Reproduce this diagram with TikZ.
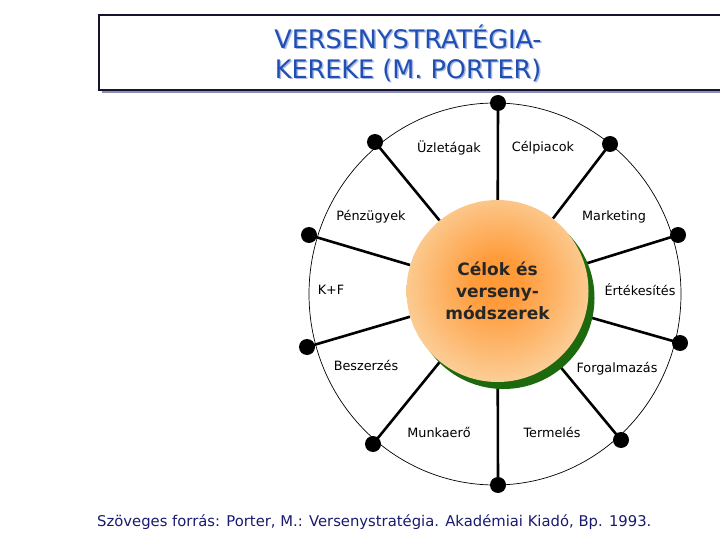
\documentclass[tikz,border=0pt]{standalone}
\usepackage{fontspec}
\setmainfont{DejaVu Sans}
\usetikzlibrary{backgrounds}
\definecolor{titleblue}{HTML}{1F4FB5}
\definecolor{titleshade}{HTML}{A9B9E0}
\definecolor{footnavy}{HTML}{1A1A70}
\definecolor{boxline}{HTML}{14142E}
\definecolor{boxshadow}{HTML}{8E8EB4}
\definecolor{coreIn}{HTML}{FF9A38}
\definecolor{coreOut}{HTML}{FBD7A8}
\definecolor{coregreen}{HTML}{1D6A0E}
\pgfdeclareradialshading{coreshade}{\pgfpoint{0bp}{3bp}}{color(0bp)=(coreIn); color(6bp)=(coreIn); color(30bp)=(coreOut); color(50bp)=(coreOut)}
\tikzset{
  dot/.style={circle, fill=black, inner sep=0pt, minimum size=16},
  spoke/.style={line width=2.6pt, black},
  rim/.style={line width=0.7pt, black},
  lab/.style={font=\fontsize{12.8}{15}\selectfont, text=black, inner sep=0pt},
  corecirc/.style={circle, minimum size=182, inner sep=0pt, shading=coreshade, align=center,
     font=\fontsize{17}{22}\selectfont\bfseries, text=black!85},
  titletext/.style={align=center, text=titleblue, font=\fontsize{25.5}{30}\selectfont, inner sep=0pt},
  foottext/.style={anchor=west, text=footnavy, font=\fontsize{14.8}{17}\selectfont, inner sep=0pt}
}
\begin{document}
\begin{tikzpicture}[x=1pt, y=-1pt]
\useasboundingbox (0,0) rectangle (720,540);
% title box
\fill[boxshadow] (102,19) rectangle (730,93);
\draw[boxline, line width=1.2pt, fill=white] (99,15) rectangle (730,90);
\node[titletext, text=titleshade] (titleS) at (409.5,54.5) {VERSENYSTRATÉGIA-\\KEREKE (M. PORTER)};
\node[titletext] (title) at (408,53) {VERSENYSTRATÉGIA-\\KEREKE (M. PORTER)};
% core
\node[corecirc] (core) at (497.5,291) {Célok és\\verseny-\\módszerek};
% dots
\node[dot] (dT)  at (498,103) {};
\node[dot] (dUL) at (375,142) {};
\node[dot] (dUR) at (610,144) {};
\node[dot] (dLU) at (309,235) {};
\node[dot] (dRU) at (678,235) {};
\node[dot] (dLL) at (307,347) {};
\node[dot] (dRL) at (680,343) {};
\node[dot] (dBL) at (373,444) {};
\node[dot] (dB)  at (498,485) {};
\node[dot] (dBR) at (621,440) {};
\begin{pgfonlayer}{background}
  \coordinate (wc) at (495,294);
  \draw[rim] (wc) ellipse [x radius=186, y radius=191];
  \foreach \d in {dT,dUL,dUR,dLU,dRU,dLL,dRL,dBL,dB,dBR}
    \draw[spoke] (\d.center) -- (core);
  \fill[coregreen] ([shift={(6,7)}]core.center) circle [radius=91];
\end{pgfonlayer}
% labels
\node[lab] (l1) at (449,148) {Üzletágak};
\node[lab] (l2) at (543,148) {Célpiacok};
\node[lab] (l3) at (371,217) {Pénzügyek};
\node[lab] (l4) at (614,217) {Marketing};
\node[lab] (l5) at (331,290) {K+F};
\node[lab] (l6) at (640,290) {Értékesítés};
\node[lab] (l7) at (366,365) {Beszerzés};
\node[lab] (l8) at (617,369) {Forgalmazás};
\node[lab] (l9) at (439,432) {Munkaerő};
\node[lab] (l10) at (552,432) {Termelés};
% footer
\node[foottext] (foot) at (97,522) {Szöveges forrás: Porter, M.: Versenystratégia. Akadémiai Kiadó, Bp. 1993.};
\end{tikzpicture}
\end{document}
